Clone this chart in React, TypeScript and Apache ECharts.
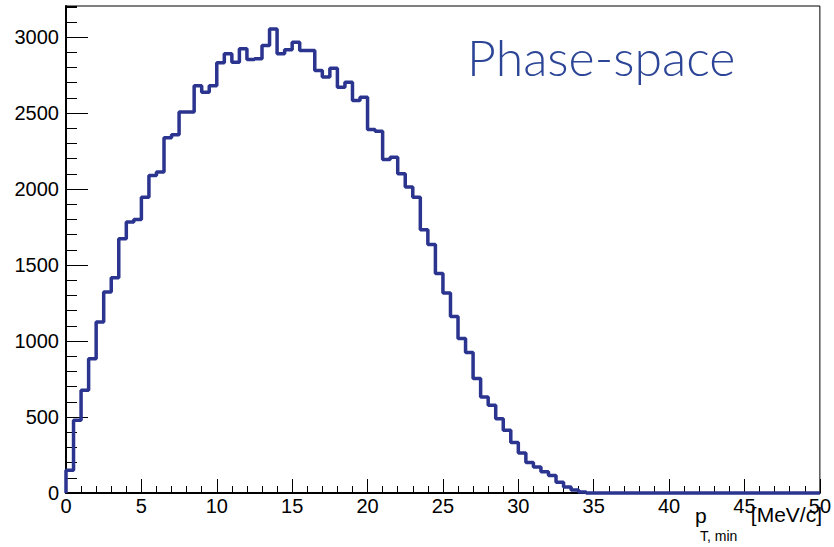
import React, { useEffect, useRef } from "react";
import * as echarts from "echarts";

const binWidth = 0.5;
const xMin = 0;
const xMax = 50;
const yMax = 3205;
const xTickLabels = ["0", "5", "10", "15", "20", "25", "30", "35", "40", "45", "50"];
const counts = [
  150, 478, 676, 884, 1125, 1322, 1417, 1673, 1783, 1800,
  1947, 2090, 2112, 2338, 2358, 2507, 2507, 2680, 2638, 2680,
  2831, 2891, 2834, 2923, 2853, 2858, 2945, 3053, 2891, 2917,
  2967, 2912, 2912, 2780, 2737, 2796, 2671, 2704, 2583, 2605,
  2393, 2380, 2195, 2210, 2101, 2013, 1947, 1733, 1636, 1445,
  1316, 1162, 1016, 924, 753, 632, 577, 489, 413, 332,
  263, 200, 171, 140, 115, 70, 39, 20, 6, 0,
  0, 0, 0, 0, 0, 0, 0, 0, 0, 0,
  0, 0, 0, 0, 0, 0, 0, 0, 0, 0,
  0, 0, 0, 0, 0, 0, 0, 0, 0, 0,
];
const titleText = "Phase-space";

export default function App() {
  const ref = useRef<HTMLDivElement>(null);
  useEffect(() => {
    document.body.style.margin = "0";
    if (!ref.current) return;
    const chart = echarts.init(ref.current, undefined, { renderer: "svg" });
    const stepData: number[][] = [[xMin, 0]];
    counts.forEach((c, i) => stepData.push([xMin + i * binWidth, c]));
    stepData.push([xMax, counts[counts.length - 1]]);
    const lineColor = "#2b348f";
    const labelFont = "Liberation Sans";
    chart.setOption({
      animation: false,
      grid: {
        left: 66,
        right: 13,
        top: 6,
        bottom: 54,
        show: true,
        borderColor: "#000",
        borderWidth: 1,
        backgroundColor: "transparent",
      },
      xAxis: {
        type: "value",
        min: xMin,
        max: xMax,
        interval: 5,
        axisLine: { show: true, lineStyle: { color: "#000", width: 2 } },
        axisTick: { show: true, inside: true, length: 14, lineStyle: { color: "#000", width: 1 } },
        minorTick: { show: true, splitNumber: 5, length: 7, lineStyle: { color: "#000", width: 1 } },
        splitLine: { show: false },
        minorSplitLine: { show: false },
        axisLabel: {
          margin: 3,
          color: "#000",
          fontFamily: labelFont,
          fontSize: 20,
          formatter: (v: number) => xTickLabels[Math.round(v / 5)] ?? String(v),
        },
      },
      yAxis: [
        {
          type: "value",
          position: "left",
          min: 0,
          max: yMax,
          interval: 500,
          axisLine: { show: true, lineStyle: { color: "#000", width: 2 } },
          axisTick: { show: true, inside: true, length: 22, lineStyle: { color: "#000", width: 1 } },
          splitLine: { show: false },
          axisLabel: {
            margin: 7,
            color: "#000",
            fontFamily: labelFont,
            fontSize: 20,
            showMaxLabel: false,
            formatter: (v: number) => String(v),
          },
        },
        {
          type: "value",
          position: "left",
          offset: 0,
          min: 0,
          max: yMax,
          interval: 100,
          axisLine: { show: false },
          axisTick: { show: true, inside: true, length: 11, lineStyle: { color: "#000", width: 1 } },
          splitLine: { show: false },
          axisLabel: { show: false },
        },
      ],
      series: [
        {
          type: "line",
          yAxisIndex: 0,
          data: stepData,
          step: "end",
          showSymbol: false,
          symbol: "none",
          clip: false,
          lineStyle: { color: lineColor, width: 3.5 },
          z: 5,
        },
      ],
      graphic: [
        {
          type: "text",
          x: 467,
          y: 57,
          style: {
            text: titleText,
            font: "300 50px Lato",
            fill: "#2c4596",
            textAlign: "left",
            textVerticalAlign: "middle",
          },
        },
        {
          type: "text",
          x: 695,
          y: 515,
          style: {
            text: "p",
            font: "21px 'Liberation Sans'",
            fill: "#000",
            textAlign: "left",
            textVerticalAlign: "middle",
          },
        },
        {
          type: "text",
          x: 700,
          y: 536,
          style: {
            text: "T, min",
            font: "14px 'Liberation Sans'",
            fill: "#000",
            textAlign: "left",
            textVerticalAlign: "middle",
          },
        },
        {
          type: "text",
          x: 822,
          y: 514,
          style: {
            text: "[MeV/c]",
            font: "21px 'Liberation Sans'",
            fill: "#000",
            textAlign: "right",
            textVerticalAlign: "middle",
          },
        },
      ],
    });
    return () => chart.dispose();
  }, []);
  return <div ref={ref} style={{ width: 834, height: 547 }} />;
}
